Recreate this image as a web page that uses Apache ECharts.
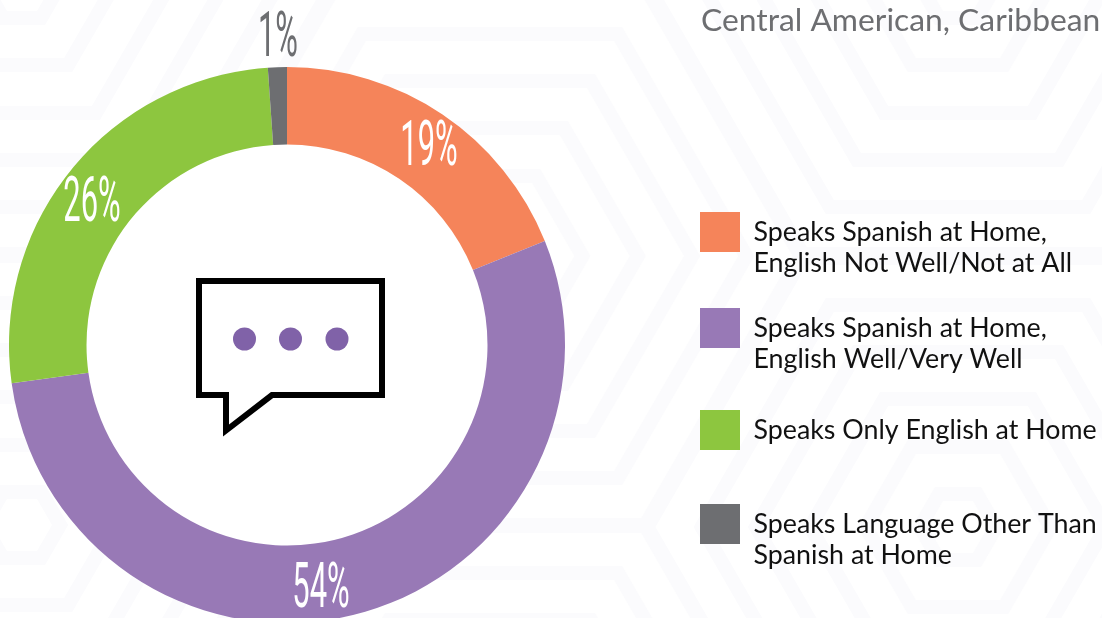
<!DOCTYPE html>
<html><head><meta charset="utf-8">
<style>html,body{margin:0;padding:0;background:#fff}#c{width:1102px;height:618px}</style>
<script src="https://cdn.jsdelivr.net/npm/echarts@6/dist/echarts.min.js"></script>
</head><body><div id="c"></div>
<script>
const titleText = 'Central American, Caribbean';
const categories = [
  'Speaks Spanish at Home,\nEnglish Not Well/Not at All',
  'Speaks Spanish at Home,\nEnglish Well/Very Well',
  'Speaks Only English at Home',
  'Speaks Language Other Than\nSpanish at Home'
];
const values = [18.9, 53.9, 26.1, 1.1];
const colors = ['#F5845A', '#9879B6', '#8DC63F', '#6D6E71'];
const legendTops = [185.5, 281.5, 410, 477.5];
const labelBoxes = [[429,149,'#fff'],[321,591,'#fff'],[92,205,'#fff'],[278,40,'#6D6E71']];
const hexCentres = [[490,256],[490,795],[958,-15],[958,527],[22,-15],[22,525]];
const hexApothems = [33,80,128,175,222,269];

const chart = echarts.init(document.getElementById('c'), null, {renderer:'canvas'});
const graphics = [];
hexCentres.forEach(([cx,cy]) => hexApothems.forEach(a => {
  const h = a/Math.sqrt(3);
  graphics.push({type:'polygon', z:0, silent:true,
    shape:{points:[[cx-2*h,cy],[cx-h,cy-a],[cx+h,cy-a],[cx+2*h,cy],[cx+h,cy+a],[cx-h,cy+a]]},
    style:{fill:'none', stroke:'#FBFBFD', lineWidth:14, lineJoin:'miter'}});
}));
// white hole of the ring
graphics.push({type:'circle', z:1, silent:true, shape:{cx:287,cy:345,r:200.5}, style:{fill:'#fff'}});
// speech bubble
graphics.push({type:'polygon', z:5, silent:true,
  shape:{points:[[199,281],[382,281],[382,395],[272,395],[226,430.5],[226,395],[199,395]]},
  style:{fill:'none', stroke:'#000', lineWidth:6, lineJoin:'miter', miterLimit:10}});
[244.5,290.5,337].forEach(x => graphics.push({type:'circle', z:5, silent:true,
  shape:{cx:x,cy:339,r:11.5}, style:{fill:'#8062A8'}}));
// condensed percentage labels
values.forEach((v,i) => {
  const [x,y,col] = labelBoxes[i];
  graphics.push({type:'text', z:6, silent:true, x:x, y:y, scaleX:0.49, scaleY:1,
    style:{text:Math.round(v)+'%', fill:col, font:'400 63px Roboto', textAlign:'center', textVerticalAlign:'middle'}});
});

const legends = categories.map((name,i) => {
  const two = name.indexOf('\n') >= 0;
  return {
    data:[name], left:700, top:legendTops[i], orient:'vertical', padding:0,
    itemWidth:40, itemHeight:40, icon:'rect', selectedMode:false,
    itemStyle:{borderWidth:0},
    formatter: n => (two ? '\n' : '') + n,
    textStyle:{fontFamily:'Lato', fontSize:26.8, color:'#111', lineHeight:31, padding:[0,0,0,8.5]}
  };
});

chart.setOption({
  animation:false,
  backgroundColor:'#fff',
  title:{text:titleText, left:701, top:5, padding:0,
    textStyle:{fontFamily:'Lato', fontWeight:'normal', fontSize:31.8, color:'#6D6E71'}},
  legend:legends,
  graphic:graphics,
  series:[{
    type:'pie', center:[287,345], radius:[200.5,278], startAngle:90, clockwise:true,
    silent:true, z:3, avoidLabelOverlap:false, minAngle:0,
    label:{show:false}, labelLine:{show:false},
    data:categories.map((n,i)=>({name:n,value:values[i],itemStyle:{color:colors[i]}}))
  }]
});
</script></body></html>
